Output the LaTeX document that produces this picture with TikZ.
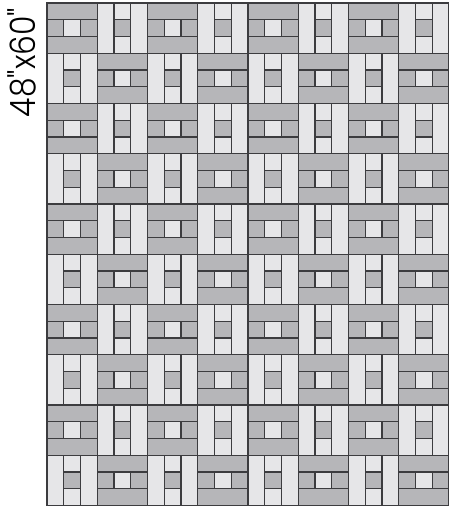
\documentclass[tikz,border=0pt]{standalone}
\usepackage{fontspec}
\newfontfamily\lbl{Poppins Light}
\definecolor{dk}{RGB}{182,182,185}
\definecolor{lt}{RGB}{230,230,232}
\definecolor{ln}{RGB}{60,60,63}
\begin{document}
\begin{tikzpicture}[x=1pt,y=-1pt,
  seam/.style={draw=ln, line width=1.1pt},
  lbltext/.style={font=\lbl\fontsize{35}{38}\selectfont, inner sep=0pt}]
\useasboundingbox (0,0) rectangle (449,508);
\def\s{50.25}
\def\t{16.75}
\foreach \c in {0,...,7}{
  \foreach \r in {0,...,9}{
    \pgfmathsetmacro\x{47+\c*\s}
    \pgfmathsetmacro\y{3+\r*\s}
    \pgfmathtruncatemacro\p{mod(\c+\r,2)}
    \ifnum\p=0
      \fill[dk] (\x,\y) rectangle ++(\s,\s);
      \fill[lt] (\x+\t,\y+\t) rectangle ++(\t,\t);
      \draw[seam] (\x,\y+\t) -- ++(\s,0);
      \draw[seam] (\x,\y+2*\t) -- ++(\s,0);
      \draw[seam] (\x+\t,\y+\t) -- ++(0,\t);
      \draw[seam] (\x+2*\t,\y+\t) -- ++(0,\t);
    \else
      \fill[lt] (\x,\y) rectangle ++(\s,\s);
      \fill[dk] (\x+\t,\y+\t) rectangle ++(\t,\t);
      \draw[seam] (\x+\t,\y) -- ++(0,\s);
      \draw[seam] (\x+2*\t,\y) -- ++(0,\s);
      \draw[seam] (\x+\t,\y+\t) -- ++(\t,0);
      \draw[seam] (\x+\t,\y+2*\t) -- ++(\t,0);
    \fi
    \draw[seam] (\x,\y) rectangle ++(\s,\s);
  }
}
\node[lbltext, rotate=90, xscale=0.9] (lbl) at (22,62.5) {48"x60"};
\end{tikzpicture}
\end{document}
